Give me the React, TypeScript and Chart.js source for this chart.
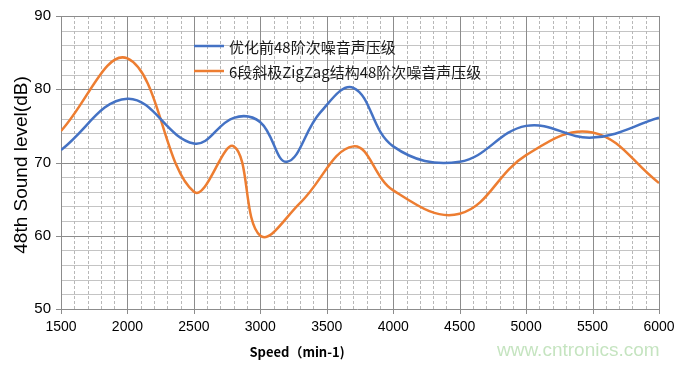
import React, { useEffect, useRef } from "react";
import { Chart, registerables } from "chart.js";

Chart.register(...registerables);

// ---- data ----
const speedBefore = [1500, 2000, 2500, 2800, 3000, 3200, 3450, 3700, 4000, 4500, 5000, 5500, 6000];
const levelBefore = [71.7, 78.7, 72.6, 76.1, 75.5, 70.1, 76.8, 80.2, 72.2, 70.1, 75.0, 73.4, 76.1];
const speedAfter = [1500, 2000, 2500, 2800, 3000, 3300, 3700, 4000, 4500, 5000, 5500, 6000];
const levelAfter = [74.3, 84.2, 66.0, 72.2, 60.0, 64.5, 72.2, 66.2, 63.0, 71.0, 74.1, 67.2];
const seriesNames = ["优化前48阶次噪音声压级", "6段斜极ZigZag结构48阶次噪音声压级"];
const seriesColors = ["#4472C4", "#ED7D31"];
const xMin = 1500;
const xMax = 6000;
const xMajorStep = 500;
const xMinorStep = 100;
const yMin = 50;
const yMax = 90;
const yMajorStep = 10;
const yMinorStep = 2;
const xTitle = "Speed（min-1)";
const yTitle = "48th Sound level(dB)";
const watermark = "www.cntronics.com";

const NARROW = '"Liberation Sans Narrow", "Arial Narrow", "Liberation Sans", Arial, sans-serif';

const gridPlugin = {
  id: "excelGrid",
  beforeDatasetsDraw(chart: any) {
    const { ctx, chartArea: a, scales } = chart;
    const xs = scales.x;
    const ys = scales.y;
    const line = (x1: number, y1: number, x2: number, y2: number, color: string, dash: number[]) => {
      ctx.beginPath();
      ctx.setLineDash(dash);
      ctx.strokeStyle = color;
      ctx.lineWidth = 1;
      ctx.moveTo(x1, y1);
      ctx.lineTo(x2, y2);
      ctx.stroke();
    };
    ctx.save();
    for (let v = yMin; v <= yMax; v += yMinorStep) {
      if (v % yMajorStep === 0) continue;
      const y = Math.round(ys.getPixelForValue(v)) + 0.5;
      line(a.left, y, a.right, y, "#c4c4c4", []);
    }
    for (let s = xMin; s <= xMax; s += xMinorStep) {
      if (s % xMajorStep === 0) continue;
      const x = Math.round(xs.getPixelForValue(s)) + 0.5;
      line(x, a.top, x, a.bottom, "#b8b8b8", [3, 2]);
    }
    for (let v = yMin; v <= yMax; v += yMajorStep) {
      const y = Math.round(ys.getPixelForValue(v)) + 0.5;
      line(a.left - 5, y, a.right, y, "#8c8c8c", []);
    }
    for (let s = xMin; s <= xMax; s += xMajorStep) {
      const x = Math.round(xs.getPixelForValue(s)) + 0.5;
      line(x, a.top, x, a.bottom + 5, "#8c8c8c", []);
    }
    ctx.restore();
  },
};

const textPlugin = {
  id: "excelText",
  afterDraw(chart: any) {
    const { ctx, chartArea: a } = chart;
    ctx.save();
    const lx = 194;
    const rows = [46, 71];
    ctx.font = '15px "Microsoft YaHei", "Noto Sans CJK SC", sans-serif';
    ctx.textBaseline = "middle";
    ctx.textAlign = "left";
    seriesNames.forEach((name, i) => {
      ctx.beginPath();
      ctx.setLineDash([]);
      ctx.strokeStyle = seriesColors[i];
      ctx.lineWidth = 2.5;
      ctx.moveTo(lx, rows[i]);
      ctx.lineTo(lx + 30, rows[i]);
      ctx.stroke();
      ctx.fillStyle = "#1a1a1a";
      ctx.fillText(name, lx + 35, rows[i] + 1);
    });
    ctx.font = 'bold 13px "Microsoft YaHei", "Noto Sans CJK SC", sans-serif';
    ctx.textAlign = "center";
    ctx.fillStyle = "#000";
    ctx.fillText(xTitle, 297, 352);
    ctx.save();
    ctx.translate(27, 165);
    ctx.rotate(-Math.PI / 2);
    ctx.font = "19px " + NARROW;
    ctx.fillStyle = "#000";
    ctx.textAlign = "center";
    ctx.textBaseline = "alphabetic";
    ctx.fillText(yTitle, 0, 0);
    ctx.restore();
    ctx.font = '19px "Liberation Sans", Arial, sans-serif';
    ctx.textAlign = "left";
    ctx.textBaseline = "middle";
    ctx.fillStyle = "rgba(150, 205, 140, 0.55)";
    ctx.fillText(watermark, 497, 351);
    ctx.restore();
  },
};

export default function App() {
  const ref = useRef<HTMLCanvasElement | null>(null);
  useEffect(() => {
    if (!ref.current) return;
    const chart = new Chart(ref.current, {
      type: "line",
      data: {
        datasets: [
          {
            label: seriesNames[0],
            data: speedBefore.map((s, i) => ({ x: s, y: levelBefore[i] })),
            borderColor: seriesColors[0],
            backgroundColor: seriesColors[0],
            borderWidth: 2.5,
            pointRadius: 0,
            tension: 0.4,
            fill: false,
          },
          {
            label: seriesNames[1],
            data: speedAfter.map((s, i) => ({ x: s, y: levelAfter[i] })),
            borderColor: seriesColors[1],
            backgroundColor: seriesColors[1],
            borderWidth: 2.5,
            pointRadius: 0,
            tension: 0.4,
            fill: false,
          },
        ],
      },
      options: {
        animation: false,
        responsive: false,
        maintainAspectRatio: false,
        layout: { padding: { top: 16, right: 22, left: 0, bottom: 0 } },
        plugins: {
          legend: { display: false },
          tooltip: { enabled: false },
          title: { display: false },
        },
        scales: {
          x: {
            type: "linear",
            min: xMin,
            max: xMax,
            grid: { display: false, drawTicks: false },
            border: { display: false },
            ticks: {
              stepSize: xMajorStep,
              autoSkip: false,
              maxRotation: 0,
              padding: 10,
              color: "#000",
              font: { family: NARROW, size: 14 },
              callback: (v: any) => String(v),
            },
            afterFit: (s: any) => {
              s.height = 56;
              s.paddingLeft = 0;
              s.paddingRight = 0;
            },
          },
          y: {
            type: "linear",
            min: yMin,
            max: yMax,
            grid: { display: false, drawTicks: false },
            border: { display: false },
            ticks: {
              stepSize: yMajorStep,
              padding: 10,
              color: "#000",
              font: { family: NARROW, size: 15 },
            },
            afterFit: (s: any) => {
              s.width = 61;
              s.paddingTop = 0;
              s.paddingBottom = 0;
            },
          },
        },
      },
      plugins: [gridPlugin, textPlugin],
    } as any);
    return () => chart.destroy();
  }, []);
  return (
    <div style={{ position: "absolute", left: 0, top: 0, width: 681, height: 365, background: "#fff" }}>
      <canvas ref={ref} width={681} height={365} />
    </div>
  );
}
